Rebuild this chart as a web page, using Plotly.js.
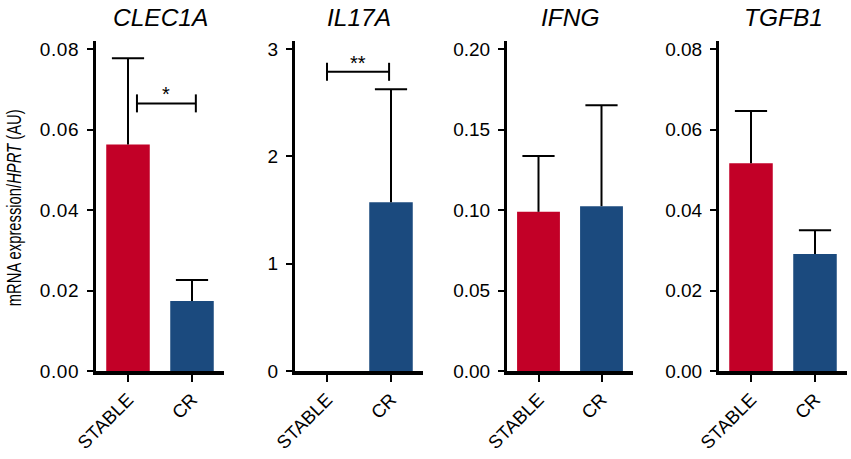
<!DOCTYPE html>
<html>
<head>
<meta charset="utf-8">
<script src="https://cdn.plot.ly/plotly-3.0.1.min.js"></script>
<style>
  html, body { margin: 0; padding: 0; background: #fff; }
  #chart { width: 851px; height: 459px; }
  #chart .ytick text { letter-spacing: 0.6px; }
</style>
</head>
<body>
<div id="chart"></div>
<script>
(function () {
  'use strict';

  var RED  = '#C20027';
  var BLUE = '#1B4A7E';
  var FONT = '"Liberation Sans", Arial, Helvetica, sans-serif';

  /* ── Data ── */
  var groups = ['STABLE', 'CR'];
  var genes  = ['CLEC1A', 'IL17A', 'IFNG', 'TGFB1'];

  var clec1aMean = [0.0563, 0.0174];
  var clec1aErr  = [0.0214, 0.0052];
  var il17aMean  = [0, 1.573];
  var il17aErr   = [0, 1.053];
  var ifngMean   = [0.0989, 0.1024];
  var ifngErr    = [0.0346, 0.0627];
  var tgfb1Mean  = [0.0516, 0.0291];
  var tgfb1Err   = [0.0130, 0.0059];

  var yTop   = [0.08, 3, 0.20, 0.08];
  var yStep  = [0.02, 1, 0.05, 0.02];
  var yFmt   = ['.2f', 'd', '.2f', '.2f'];

  /* significance brackets: panel index, from, to (category units), height, label */
  var sigPanel = [0, 1];
  var sigFrom  = [0.14, 0];
  var sigTo    = [1.06, 0.97];
  var sigY     = [0.0665, 2.788];
  var sigLabel = ['*', '**'];

  var means = [clec1aMean, il17aMean, ifngMean, tgfb1Mean];
  var errs  = [clec1aErr, il17aErr, ifngErr, tgfb1Err];

  /* panel placement in paper fractions */
  var domains = [
    [96 / 851, 224 / 851],
    [295 / 851, 423 / 851],
    [507 / 851, 633 / 851],
    [719 / 851, 847 / 851],
  ];
  var yDomain = [88 / 459, 418 / 459];

  var traces = [];
  var annotations = [];
  var shapes = [];
  var layout = {
    width: 851, height: 459,
    margin: { l: 0, r: 0, t: 0, b: 0 },
    paper_bgcolor: '#fff',
    plot_bgcolor: '#fff',
    showlegend: false,
    font: { family: FONT, color: '#000' },
  };

  function ticksFor(top, step) {
    var out = [];
    for (var k = 0; k <= Math.round(top / step); k++) out.push(+(k * step).toFixed(4));
    return out;
  }

  genes.forEach(function (g, i) {
    var n = i === 0 ? '' : String(i + 1);
    var m = means[i], e = errs[i];

    traces.push({
      type: 'bar',
      x: groups,
      y: m,
      xaxis: 'x' + n,
      yaxis: 'y' + n,
      width: 0.68,
      marker: { color: [RED, BLUE], line: { width: 0 } },
      hoverinfo: 'x+y',
    });

    /* one-sided error bars: whisker from bar top up, cap at the end */
    var wx = [], wy = [], cx = [], cy = [];
    groups.forEach(function (grp, j) {
      if (!e[j]) return;
      wx.push(grp, grp, null);
      wy.push(m[j], m[j] + e[j], null);
      cx.push(grp);
      cy.push(m[j] + e[j]);
    });
    traces.push({
      type: 'scatter', mode: 'lines',
      x: wx, y: wy,
      xaxis: 'x' + n, yaxis: 'y' + n,
      line: { color: '#000', width: 2 },
      hoverinfo: 'skip',
    });
    traces.push({
      type: 'scatter', mode: 'markers',
      x: cx, y: cy,
      xaxis: 'x' + n, yaxis: 'y' + n,
      marker: { symbol: 'line-ew-open', size: 23, color: '#000', line: { color: '#000', width: 2 } },
      hoverinfo: 'skip',
    });

    layout['xaxis' + n] = {
      domain: domains[i],
      anchor: 'y' + n,
      range: [-0.5, 1.5],
      type: 'category',
      showline: true, linecolor: '#000', linewidth: 3.5,
      ticks: 'outside', ticklen: 7, tickwidth: 2, tickcolor: '#000',
      tickangle: -45,
      tickfont: { family: FONT, size: 18.5, color: '#000' },
      showgrid: false, zeroline: false,
      fixedrange: true,
    };
    layout['yaxis' + n] = {
      domain: yDomain,
      anchor: 'x' + n,
      range: [0, yTop[i] * 1.025],
      tickvals: ticksFor(yTop[i], yStep[i]),
      tickformat: yFmt[i],
      showline: true, linecolor: '#000', linewidth: 3,
      ticks: 'outside', ticklen: 6, tickwidth: 2, tickcolor: '#000',
      ticklabelstandoff: 4,
      tickfont: { family: FONT, size: 19, color: '#000' },
      showgrid: false, zeroline: false,
      fixedrange: true,
    };

    /* gene name above each panel */
    annotations.push({
      xref: 'paper', yref: 'paper',
      x: (domains[i][0] + domains[i][1]) / 2, y: 1 - 17.5 / 459,
      text: '<i>' + g + '</i>',
      showarrow: false,
      font: { family: FONT, size: 24.5, color: '#000' },
      xanchor: 'center', yanchor: 'middle',
    });
  });

  /* significance brackets */
  sigPanel.forEach(function (p, k) {
    var n = p === 0 ? '' : String(p + 1);
    var xr = 'x' + n, yr = 'y' + n;
    shapes.push({
      type: 'line', xref: xr, yref: yr,
      x0: sigFrom[k], x1: sigTo[k], y0: sigY[k], y1: sigY[k],
      line: { color: '#000', width: 2 },
    });
    [sigFrom[k], sigTo[k]].forEach(function (xv) {
      shapes.push({
        type: 'line', xref: xr, yref: yr,
        ysizemode: 'pixel', yanchor: sigY[k],
        x0: xv, x1: xv, y0: -9, y1: 9,
        line: { color: '#000', width: 2 },
      });
    });
    annotations.push({
      xref: xr, yref: yr,
      x: (sigFrom[k] + sigTo[k]) / 2, y: sigY[k],
      text: sigLabel[k],
      showarrow: false,
      font: { family: FONT, size: 20, color: '#000' },
      xanchor: 'center', yanchor: 'middle', yshift: 9,
    });
  });

  /* shared y-axis label */
  annotations.push({
    xref: 'paper', yref: 'paper',
    x: 14 / 851, y: 1 - 208 / 459,
    text: 'mRNA expression/<i>HPRT</i> (AU)',
    textangle: -90,
    showarrow: false,
    font: { family: FONT, size: 20, color: '#000' },
    xanchor: 'center', yanchor: 'middle',
  });

  layout.annotations = annotations;
  layout.shapes = shapes;

  Plotly.newPlot('chart', traces, layout, { displayModeBar: false, staticPlot: true }).then(function () {
    /* the original label is set in a condensed face: squeeze it along its length */
    var all = document.querySelectorAll('#chart .annotation-text');
    var t = all[all.length - 1];
    if (t) {
      t.style.transformBox = 'fill-box';
      t.style.transformOrigin = 'center';
      t.style.transform = 'scaleX(0.74)';
    }
  });
})();
</script>
</body>
</html>
